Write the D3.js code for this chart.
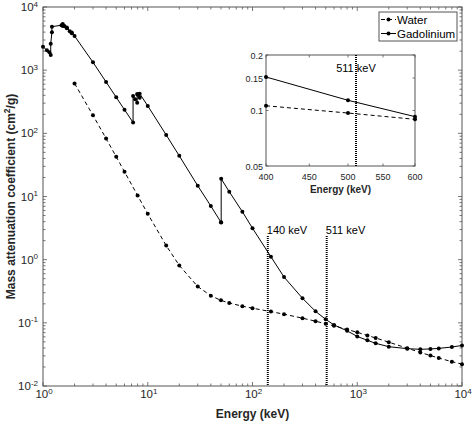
<!DOCTYPE html>
<html><head><meta charset="utf-8">
<script src="https://cdn.jsdelivr.net/npm/d3@7"></script>
<style>body{margin:0;background:#fff} svg{display:block} text{font-family:"Liberation Sans",Arial,Helvetica,sans-serif;fill:#262626}</style>
</head><body><svg id="c" width="472" height="424"></svg>
<script>
const waterE=[2,3,4,5,6,8,10,15,20,30,40,50,60,80,100,150,200,300,400,500,600,800,1000,1250,1500,2000,3000,4000,5000,6000,8000,10000];
const waterMu=[617.3,192.9,82.78,42.58,24.64,10.37,5.329,1.673,0.8096,0.3756,0.2683,0.2269,0.2059,0.1837,0.1707,0.1505,0.137,0.1186,0.1061,0.09687,0.08956,0.07865,0.07072,0.06323,0.05754,0.04942,0.03969,0.03403,0.03031,0.0277,0.02429,0.02219];
const gdE=[1,1.09,1.15,1.185,1.185,1.217,1.217,1.5,1.544,1.544,1.6,1.688,1.688,1.8,1.881,1.881,2,3,4,5,6,7.243,7.243,7.58,7.93,7.93,8,8.376,8.376,10,15,20,30,40,50,50.24,50.24,60,80,100,150,200,300,400,500,600,800,1000,1250,1500,2000,3000,4000,5000,6000,8000,10000];
const gdMu=[2350,2060,1920,1740,2620,3990,4880,5150,5000,5380,5000,4600,4750,4150,3830,3950,3475,1334,650,372,236,149,390,345,305,420,410,365,425,272,94.3,44,14.8,7.08,3.92,3.87,19.1,11.9,5.75,3.14,1.11,0.53,0.245,0.152,0.1136,0.0926,0.0748,0.0608,0.0529,0.0474,0.0419,0.039,0.0381,0.0386,0.0394,0.0414,0.0438];
const xTickExps=[0,1,2,3,4];
const yTickExps=[-2,-1,0,1,2,3,4];
const markerEnergies=[140,511];
const markerLabels=["140 keV","511 keV"];
const insetXTicks=[400,450,500,550,600];
const insetYTicks=[0.05,0.1,0.15,0.2];
const legendNames=["Water","Gadolinium"];

const water=waterE.map((e,i)=>({e,m:waterMu[i]}));
const gd=gdE.map((e,i)=>({e,m:gdMu[i]}));

const svg=d3.select("#c");
const AX="#555";
const L=43,R=462,T=7,B=386;
const x=d3.scaleLog().domain([1,1e4]).range([L,R]);
const y=d3.scaleLog().domain([1e-2,1e4]).range([B,T]);

// frame
svg.append("rect").attr("x",L).attr("y",T).attr("width",R-L).attr("height",B-T).attr("fill","none").attr("stroke",AX).attr("stroke-width",1);

// ticks
function logTicks(lo,hi){const out=[];for(let p=lo;p<hi;p++){for(let k=1;k<10;k++)out.push({v:k*Math.pow(10,p),major:k===1});}out.push({v:Math.pow(10,hi),major:true});return out;}
const tg=svg.append("g").attr("stroke",AX).attr("stroke-width",0.8);
logTicks(0,4).forEach(t=>{const len=t.major?4:2.5;const px=x(t.v);
  tg.append("line").attr("x1",px).attr("x2",px).attr("y1",B).attr("y2",B-len);
  tg.append("line").attr("x1",px).attr("x2",px).attr("y1",T).attr("y2",T+len);});
logTicks(-2,4).forEach(t=>{const len=t.major?4:2.5;const py=y(t.v);
  tg.append("line").attr("y1",py).attr("y2",py).attr("x1",L).attr("x2",L+len);
  tg.append("line").attr("y1",py).attr("y2",py).attr("x1",R).attr("x2",R-len);});

function supText(g,exp,ax,ay,anchor){
  const t=g.append("text").attr("x",ax).attr("y",ay).attr("text-anchor",anchor).attr("font-size",11.5);
  t.append("tspan").text("10");
  t.append("tspan").attr("dy",-4.5).attr("font-size",8).text(exp<0?"-"+(-exp):exp);
  return t;
}
xTickExps.forEach(p=>supText(svg,p,x(Math.pow(10,p))+1,398,"middle"));
yTickExps.forEach(p=>supText(svg,p,38,y(Math.pow(10,p))+4,"end"));

// axis labels
svg.append("text").attr("x",(L+R)/2).attr("y",418).attr("text-anchor","middle").attr("font-size",12).attr("font-weight","bold").text("Energy (keV)");
const yl=svg.append("text").attr("transform",`translate(15,${(T+B)/2}) rotate(-90)`).attr("text-anchor","middle").attr("font-size",12).attr("font-weight","bold");
yl.append("tspan").text("Mass attenuation coefficient (cm");
yl.append("tspan").attr("dy",-5).attr("font-size",8.5).text("2");
yl.append("tspan").attr("dy",5).text("/g)");

// dotted lines
markerEnergies.forEach((e,i)=>{
  svg.append("line").attr("x1",x(e)).attr("x2",x(e)).attr("y1",236).attr("y2",B).attr("stroke","#000").attr("stroke-width",2).attr("stroke-dasharray","1,1");
  svg.append("text").attr("x",x(e)-1).attr("y",233.5).attr("font-size",11).style("fill","#000").text(markerLabels[i]);
});

// series
const line=d3.line().x(d=>x(d.e)).y(d=>y(d.m));
svg.append("path").datum(water).attr("d",line).attr("fill","none").attr("stroke","#000").attr("stroke-width",1).attr("stroke-dasharray","4,3");
svg.append("path").datum(gd).attr("d",line).attr("fill","none").attr("stroke","#000").attr("stroke-width",1);
[water,gd].forEach(s=>svg.append("g").selectAll("circle").data(s).join("circle").attr("cx",d=>x(d.e)).attr("cy",d=>y(d.m)).attr("r",2).attr("fill","#000"));

// inset
const iL=266,iR=415,iT=55,iB=166;
const ix=d3.scaleLog().domain([400,600]).range([iL,iR]);
const iy=d3.scaleLog().domain([0.05,0.2]).range([iB,iT]);
const ig=svg.append("g");
ig.append("rect").attr("x",iL).attr("y",iT).attr("width",iR-iL).attr("height",iB-iT).attr("fill","#fff").attr("stroke",AX).attr("stroke-width",1);
const itg=ig.append("g").attr("stroke",AX).attr("stroke-width",0.8);
insetXTicks.forEach(v=>{const px=ix(v);
  itg.append("line").attr("x1",px).attr("x2",px).attr("y1",iB).attr("y2",iB-2.5);
  itg.append("line").attr("x1",px).attr("x2",px).attr("y1",iT).attr("y2",iT+2.5);
  ig.append("text").attr("x",px).attr("y",180).attr("text-anchor","middle").attr("font-size",9).text(v);});
insetYTicks.forEach(v=>{const py=iy(v);
  itg.append("line").attr("y1",py).attr("y2",py).attr("x1",iL).attr("x2",iL+2.5);
  itg.append("line").attr("y1",py).attr("y2",py).attr("x1",iR).attr("x2",iR-2.5);
  ig.append("text").attr("x",iL-3).attr("y",py+3.5).attr("text-anchor","end").attr("font-size",9).text(v);});
ig.append("text").attr("x",(iL+iR)/2).attr("y",193).attr("text-anchor","middle").attr("font-size",10).attr("font-weight","bold").text("Energy (keV)");
ig.append("line").attr("x1",ix(511)).attr("x2",ix(511)).attr("y1",iT).attr("y2",iB).attr("stroke","#000").attr("stroke-width",2).attr("stroke-dasharray","1,1");
ig.append("text").attr("x",ix(511)).attr("y",72).attr("text-anchor","middle").attr("font-size",11).style("fill","#000").text("511 keV");
const iline=d3.line().x(d=>ix(d.e)).y(d=>iy(d.m));
const inW=water.filter(d=>d.e>=400&&d.e<=600), inG=gd.filter(d=>d.e>=400&&d.e<=600);
ig.append("path").datum(inW).attr("d",iline).attr("fill","none").attr("stroke","#000").attr("stroke-width",1).attr("stroke-dasharray","4,3");
ig.append("path").datum(inG).attr("d",iline).attr("fill","none").attr("stroke","#000").attr("stroke-width",1);
[inW,inG].forEach(s=>ig.append("g").selectAll("circle").data(s).join("circle").attr("cx",d=>ix(d.e)).attr("cy",d=>iy(d.m)).attr("r",2).attr("fill","#000"));

// legend
const lg=svg.append("g");
lg.append("rect").attr("x",379).attr("y",12).attr("width",78).attr("height",29).attr("fill","#fff").attr("stroke",AX).attr("stroke-width",1);
legendNames.forEach((n,i)=>{const cy=19.5+i*14;
  lg.append("line").attr("x1",381).attr("x2",396).attr("y1",cy).attr("y2",cy).attr("stroke","#000").attr("stroke-width",1).attr("stroke-dasharray",i===0?"4,3":null);
  lg.append("circle").attr("cx",388.5).attr("cy",cy).attr("r",2).attr("fill","#000");
  lg.append("text").attr("x",397).attr("y",cy+4).attr("font-size",11.5).style("fill","#000").text(n);});
</script></body></html>
